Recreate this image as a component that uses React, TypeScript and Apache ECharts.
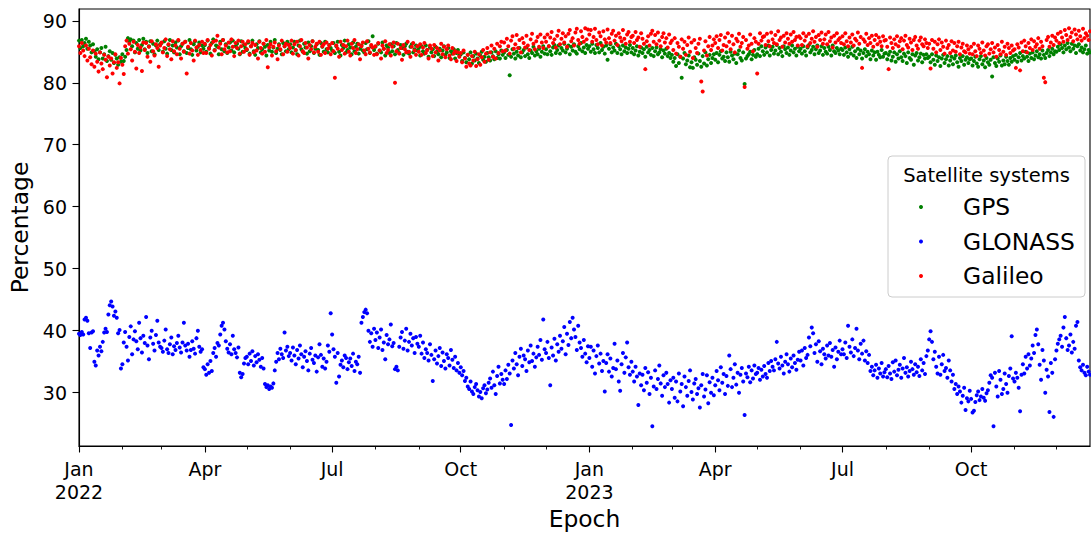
import React, { useEffect, useRef } from "react";
import * as echarts from "echarts";

// Daily percentages, one line per month (Jan..Dec)
const gps2022 = [
  86.8, 85.6, 86.9, 85.9, 86.4, 87.1, 85.5, 86.6, 86.0, 84.9, 86.2, 85.1, 84.2, 85.4, 83.8, 84.9, 85.6, 83.9, 84.6, 85.8, 83.5, 84.3, 85.1, 83.7, 84.8, 83.2, 84.5, 83.9, 82.9, 84.1, 83.4,
  84.6, 83.5, 84.2, 85.3, 87.2, 86.6, 87.0, 85.9, 86.8, 84.9, 86.4, 85.5, 86.9, 85.2, 86.1, 87.1, 85.4, 86.6, 84.8, 85.9, 86.7, 85.1, 86.3, 84.6, 86.0, 86.8, 85.3, 86.2,
  86.4, 85.0, 86.7, 85.5, 84.7, 86.1, 86.9, 85.3, 86.0, 84.9, 86.5, 85.7, 86.8, 84.6, 85.9, 86.3, 85.1, 86.6, 84.8, 85.6, 86.9, 85.4, 84.5, 86.2, 86.7, 85.2, 85.8, 86.5, 84.9, 86.0, 85.5,
  86.1, 85.0, 86.8, 85.6, 84.7, 86.4, 87.0, 85.3, 86.0, 85.8, 84.6, 86.6, 85.4, 86.9, 85.1, 86.2, 84.8, 85.7, 86.5, 85.2, 86.8, 84.9, 85.9, 86.3, 85.5, 84.6, 86.7, 85.0, 86.1, 85.6,
  85.3, 86.5, 84.7, 85.9, 86.8, 85.1, 84.5, 86.2, 85.6, 86.7, 84.9, 85.4, 86.3, 85.8, 84.4, 86.1, 85.2, 86.6, 85.0, 85.7, 86.9, 84.8, 85.5, 86.2, 85.3, 84.6, 86.4, 85.9, 85.1, 86.6, 85.4,
  86.2, 84.9, 85.7, 86.6, 85.2, 84.6, 86.0, 86.8, 85.4, 85.0, 86.3, 85.7, 84.7, 86.5, 85.1, 85.9, 86.7, 84.8, 85.5, 86.2, 85.3, 84.5, 86.4, 85.8, 85.0, 86.6, 85.4, 84.9, 86.1, 85.6,
  85.2, 86.4, 84.8, 85.9, 86.6, 85.0, 84.4, 86.1, 85.6, 86.8, 84.9, 85.3, 86.2, 85.7, 84.6, 86.5, 85.1, 85.8, 86.3, 84.7, 85.5, 86.0, 85.2, 84.9, 86.4, 85.4, 86.7, 84.8, 85.9, 87.5, 85.3,
  85.8, 84.7, 86.3, 85.2, 84.9, 86.5, 85.5, 84.4, 86.0, 85.7, 84.8, 86.2, 85.1, 85.9, 84.6, 86.4, 85.3, 84.8, 86.1, 85.6, 84.5, 85.9, 86.3, 85.0, 84.7, 85.8, 86.2, 84.9, 85.4, 86.0, 85.2,
  85.6, 84.4, 85.9, 85.1, 84.7, 86.0, 85.3, 84.2, 85.7, 84.9, 85.4, 84.3, 85.8, 85.0, 84.6, 85.5, 84.1, 85.2, 85.9, 84.5, 84.9, 85.6, 84.0, 85.1, 84.7, 85.4, 83.9, 84.8, 85.3, 84.4,
  84.6, 83.5, 84.9, 84.0, 83.3, 84.5, 83.8, 84.9, 83.1, 84.3, 83.6, 84.7, 83.9, 83.2, 84.4, 85.0, 83.7, 84.2, 83.4, 84.8, 84.1, 83.6, 84.9, 84.3, 83.8, 85.1, 84.0, 84.6, 83.9, 85.2, 84.5,
  84.9, 84.0, 85.3, 84.5, 81.2, 84.2, 85.4, 84.7, 83.9, 85.0, 84.4, 85.6, 84.1, 84.9, 85.3, 84.3, 85.7, 84.6, 84.0, 85.2, 84.8, 85.8, 84.4, 85.1, 84.6, 85.5, 84.2, 85.0, 85.9, 84.7,
  85.4, 84.6, 85.9, 85.1, 84.5, 85.7, 86.1, 84.8, 85.3, 86.0, 84.7, 85.6, 85.2, 86.3, 84.9, 85.5, 86.0, 84.6, 85.8, 85.2, 86.2, 85.0, 84.7, 85.9, 85.4, 86.4, 85.1, 85.7, 84.8, 86.1, 85.5,
];

const gps2023 = [
  85.9, 85.0, 86.3, 85.4, 84.8, 86.1, 85.6, 84.9, 86.4, 85.3, 85.8, 84.7, 86.0, 83.7, 85.5, 86.2, 84.9, 85.7, 85.2, 86.3, 84.8, 85.9, 85.4, 84.6, 86.0, 85.1, 85.7, 84.8, 85.5, 86.1, 84.9,
  85.6, 84.6, 85.2, 85.9, 84.4, 85.0, 85.7, 84.8, 85.4, 84.2, 85.8, 84.9, 85.3, 84.5, 85.6, 84.3, 85.1, 85.7, 84.6, 84.9, 85.4, 84.1, 85.2, 84.7, 85.5, 84.3, 84.8, 84.0,
  84.5, 83.4, 84.0, 82.7, 84.6, 83.2, 84.2, 80.8, 83.9, 84.8, 83.0, 83.6, 84.4, 82.5, 83.3, 82.4, 84.1, 83.7, 82.9, 84.7, 83.5, 82.6, 84.3, 83.1, 84.9, 82.8, 83.8, 84.5, 83.2, 84.0, 84.6,
  83.7, 84.8, 83.3, 84.5, 85.1, 83.9, 84.2, 83.5, 84.9, 84.1, 83.4, 85.0, 84.4, 83.8, 84.7, 83.2, 84.6, 85.2, 84.0, 83.6, 84.9, 79.8, 83.9, 84.3, 84.6, 85.0, 83.8, 84.5, 85.3, 84.2,
  84.6, 85.5, 84.3, 85.9, 85.1, 84.5, 85.7, 84.9, 86.0, 84.4, 85.3, 85.8, 84.7, 85.2, 86.1, 84.6, 85.6, 85.0, 84.3, 85.9, 85.4, 84.8, 85.7, 84.5, 85.2, 86.0, 84.9, 85.5, 84.4, 85.8, 85.1,
  85.5, 84.7, 85.9, 85.1, 84.4, 85.7, 86.1, 84.9, 85.3, 85.8, 84.6, 85.4, 86.0, 84.8, 85.2, 85.9, 84.5, 85.6, 85.0, 84.7, 85.8, 85.3, 84.4, 86.0, 85.1, 84.8, 85.6, 85.2, 84.6, 85.5,
  85.3, 84.5, 85.7, 84.9, 84.2, 85.4, 84.7, 85.8, 84.4, 85.1, 84.0, 85.5, 84.6, 85.2, 83.9, 84.8, 85.4, 84.3, 85.0, 84.6, 83.8, 85.2, 84.4, 84.9, 83.7, 85.0, 84.5, 84.1, 85.3, 84.2, 84.7,
  84.8, 83.8, 84.5, 85.0, 83.6, 84.2, 84.9, 83.4, 84.6, 83.9, 85.1, 84.1, 83.5, 84.7, 84.3, 83.2, 84.9, 84.0, 83.7, 84.6, 82.9, 84.4, 84.8, 83.6, 84.1, 84.7, 83.3, 84.5, 83.9, 84.6, 84.0,
  84.2, 83.3, 84.6, 83.7, 82.9, 84.4, 83.5, 84.1, 82.7, 83.9, 84.5, 83.2, 83.8, 84.3, 82.8, 83.6, 84.2, 83.0, 83.9, 84.4, 83.3, 82.6, 84.0, 83.5, 84.3, 82.9, 83.7, 84.1, 83.2, 83.8,
  83.9, 82.8, 83.5, 84.2, 83.1, 82.6, 83.8, 84.3, 83.0, 83.6, 82.5, 84.0, 83.3, 82.9, 83.7, 81.0, 84.1, 83.2, 82.7, 83.9, 83.4, 84.4, 82.8, 83.6, 83.0, 84.2, 83.5, 82.9, 84.0, 83.4, 84.3,
  83.7, 84.5, 83.4, 84.1, 84.8, 83.6, 84.3, 83.9, 85.0, 84.2, 83.5, 84.7, 84.0, 84.9, 83.8, 84.4, 85.1, 84.1, 84.6, 83.9, 85.2, 84.5, 84.0, 84.8, 85.3, 84.3, 84.9, 85.5, 84.6, 85.1,
  85.0, 85.8, 85.3, 86.2, 85.6, 84.9, 86.0, 85.4, 86.4, 85.7, 85.1, 86.3, 85.5, 86.0, 84.8, 85.9, 86.2, 85.2, 85.7, 84.9, 85.4, 86.0, 84.7, 85.3, 84.9,
];

const glonass2022 = [
  39.5, 39.3, 39.8, 39.4, 41.8, 42.1, 41.6, 39.6, 37.2, 39.7, 39.9, 35.0, 34.4, 36.8, 36.0, 37.4, 36.7, 38.2, 39.7, 40.3, 39.8, 42.6, 44.1, 44.7, 43.9, 42.4, 43.1, 42.1, 39.6, 40.1, 33.9,
  34.6, 38.1, 39.8, 37.4, 35.2, 39.0, 40.7, 36.2, 38.6, 39.9, 38.3, 37.0, 41.3, 38.8, 36.5, 39.2, 38.0, 42.2, 37.6, 35.4, 38.9, 40.0, 37.9, 36.8, 39.3, 41.6, 38.1, 37.4,
  37.2, 36.6, 38.4, 40.2, 37.0, 36.4, 37.8, 38.9, 36.2, 37.5, 36.9, 38.0, 39.2, 37.3, 36.5, 38.1, 41.3, 37.6, 36.8, 37.9, 35.8, 36.9, 38.3, 37.1, 36.3, 38.8, 40.0, 37.4, 36.6, 37.0, 34.1,
  33.8, 32.9, 34.6, 33.2, 35.1, 33.5, 36.4, 37.2, 35.8, 38.0, 37.6, 39.4, 40.8, 41.3, 40.2, 38.3, 37.1, 36.5, 37.8, 36.2, 39.2, 37.0, 36.4, 35.7, 37.3, 33.2, 32.5, 33.0, 34.7, 35.6,
  35.8, 34.6, 36.3, 35.1, 36.7, 34.4, 35.9, 34.9, 36.2, 35.3, 34.2, 35.6, 33.9, 31.4, 30.9, 31.2, 30.6, 31.0, 30.8, 31.5, 33.6, 35.0, 36.4, 35.4, 37.1, 36.2, 35.6, 39.7, 36.8, 37.4, 35.9,
  36.4, 35.2, 37.3, 36.0, 34.6, 36.9, 35.5, 37.6, 36.2, 34.1, 35.8, 36.7, 35.1, 33.6, 36.3, 37.2, 35.3, 34.8, 36.0, 33.4, 35.7, 37.8, 36.1, 34.2, 35.5, 33.9, 35.0, 37.6, 36.6, 42.8,
  39.4, 37.0, 35.8, 31.6, 36.4, 32.6, 34.5, 35.2, 34.1, 36.0, 35.6, 33.8, 34.9, 35.5, 34.3, 36.3, 33.5, 35.0, 34.6, 35.8, 33.2, 41.3, 42.2, 43.0, 43.4, 42.8, 40.0, 38.2, 39.6, 37.4, 40.3,
  38.5, 39.7, 37.2, 38.9, 40.2, 36.9, 38.1, 35.4, 39.3, 37.8, 38.6, 41.0, 37.5, 38.0, 33.8, 34.2, 33.6, 37.4, 38.9, 39.8, 37.1, 38.4, 40.3, 36.8, 38.2, 39.5, 37.6, 38.8, 36.4, 39.0, 37.9,
  37.4, 39.2, 36.3, 38.1, 35.6, 37.0, 36.4, 35.2, 37.8, 36.1, 31.9, 35.4, 36.8, 34.7, 35.9, 37.2, 34.3, 36.5, 35.1, 33.9, 36.2, 35.6, 34.4, 36.9, 35.3, 34.0, 35.8, 33.6, 34.8, 33.2,
  34.1, 32.8, 33.5, 31.9, 32.4, 31.0, 30.6, 31.8, 30.2, 29.8, 30.9, 31.4, 30.4, 29.4, 30.1, 29.1, 30.7, 31.2, 29.9, 30.5, 31.6, 32.3, 30.8, 33.4, 31.2, 29.8, 32.7, 34.2, 31.5, 33.0, 32.1,
  31.4, 33.6, 32.2, 34.5, 33.1, 24.8, 35.2, 33.9, 36.4, 34.6, 32.8, 35.8, 37.1, 34.3, 36.0, 35.4, 33.5, 36.8, 34.9, 37.6, 35.1, 36.3, 34.2, 35.7, 37.4, 36.1, 38.5, 35.3, 41.8, 37.0,
  36.4, 38.2, 35.6, 31.2, 37.3, 36.0, 38.7, 35.2, 37.8, 36.6, 39.2, 37.1, 38.3, 40.6, 36.2, 39.5, 37.7, 41.4, 38.8, 42.1, 40.2, 39.0, 36.9, 40.8, 38.1, 37.2, 35.8, 38.5, 36.3, 34.9, 37.5,
];

const glonass2023 = [
  35.6, 37.4, 34.2, 36.8, 33.1, 35.9, 37.6, 34.7, 36.3, 33.5, 35.1, 30.2, 34.8, 36.2, 33.4, 35.5, 32.6, 34.0, 37.9, 33.8, 35.2, 31.8, 30.3, 34.6, 36.4, 33.2, 35.7, 38.1, 34.1, 32.9, 35.0,
  33.4, 31.8, 34.2, 32.6, 28.0, 33.1, 31.2, 32.9, 30.4, 34.0, 31.6, 33.3, 29.8, 32.4, 24.6, 31.0, 33.6, 30.6, 32.2, 34.4, 31.5, 29.5, 32.8, 30.9, 33.2, 31.4, 28.4, 32.0,
  30.6, 32.4, 29.2, 31.8, 28.6, 33.1, 30.2, 31.4, 27.8, 32.6, 30.9, 29.5, 31.9, 33.6, 30.1, 28.9, 31.5, 32.2, 29.8, 30.7, 27.6, 31.2, 33.0, 29.4, 30.5, 32.8, 28.3, 31.7, 30.0, 32.4, 29.6,
  31.2, 33.5, 32.0, 30.4, 34.1, 31.6, 33.0, 29.8, 32.7, 31.1, 36.0, 33.8, 30.9, 32.4, 34.6, 31.3, 33.2, 30.0, 32.9, 34.0, 31.8, 26.4, 33.1, 32.5, 34.2, 31.7, 33.6, 32.3, 34.4, 33.0,
  33.2, 34.0, 32.1, 33.7, 32.6, 34.3, 33.0, 32.4, 34.8, 33.5, 35.1, 34.2, 33.6, 35.4, 38.2, 34.7, 33.9, 35.8, 34.4, 33.1, 35.0, 36.2, 34.6, 33.4, 35.5, 34.1, 36.0, 34.8, 33.7, 35.3, 36.6,
  35.2, 36.8, 34.4, 37.2, 35.6, 36.1, 38.9, 37.5, 40.5, 39.6, 36.4, 37.8, 35.0, 38.3, 36.7, 34.6, 37.1, 36.2, 35.5, 37.6, 36.0, 38.0, 35.8, 36.9, 34.2, 37.3, 35.4, 36.6, 38.4, 36.2,
  37.0, 36.2, 38.1, 35.6, 40.8, 37.4, 36.5, 38.6, 35.9, 37.2, 40.3, 36.8, 35.4, 37.9, 36.3, 38.4, 35.2, 36.7, 34.8, 36.1, 33.5, 34.2, 32.8, 33.6, 34.5, 32.4, 33.9, 33.1, 34.8, 32.6, 33.3,
  33.8, 32.5, 34.3, 33.1, 32.2, 34.9, 33.4, 35.2, 32.8, 33.7, 34.5, 32.4, 33.9, 35.6, 33.2, 34.1, 32.6, 33.5, 35.0, 33.8, 32.9, 34.6, 33.3, 34.2, 32.7, 35.4, 33.6, 34.8, 33.0, 35.9, 36.8,
  38.6, 39.9, 38.2, 35.4, 36.6, 34.2, 33.1, 35.8, 32.9, 34.6, 36.1, 33.5, 34.0, 32.4, 35.2, 33.6, 31.8, 32.9, 30.6, 31.4, 29.8, 31.0, 30.2, 28.4, 29.5, 30.8, 27.2, 29.1, 28.6, 30.3,
  29.0, 26.8, 27.1, 28.5, 29.6, 30.2, 28.8, 29.4, 30.6, 29.2, 28.7, 29.9, 30.4, 31.6, 32.8, 32.4, 24.6, 33.2, 31.0, 29.4, 33.5, 32.1, 29.8, 30.6, 33.1, 31.4, 30.0, 32.7, 33.9, 39.1, 32.3,
  31.8, 33.2, 32.4, 30.8, 27.0, 32.9, 34.6, 33.1, 35.8, 33.9, 36.2, 34.4, 35.5, 37.6, 36.4, 39.3, 40.2, 37.8, 34.5, 32.1, 36.9, 35.2, 30.0, 33.7, 32.6, 26.9, 34.8, 33.2, 26.1, 35.4,
  36.8, 37.9, 38.6, 39.2, 37.4, 40.5, 42.2, 38.8, 36.9, 37.6, 39.4, 36.5, 38.2, 37.1, 40.8, 41.4, 35.2, 34.1, 33.6, 34.5, 33.2, 32.8, 34.2, 33.4, 32.9,
];

const galileo2022 = [
  85.9, 84.8, 86.4, 85.2, 84.3, 86.0, 83.6, 85.5, 84.1, 83.0, 85.2, 82.6, 84.7, 83.4, 81.8, 84.9, 83.1, 82.2, 84.5, 83.7, 80.9, 84.2, 82.8, 83.9, 81.5, 83.3, 84.6, 82.4, 83.3, 79.9, 84.0,
  82.9, 81.4, 85.9, 86.8, 84.7, 86.3, 85.4, 83.6, 86.6, 85.0, 82.3, 86.1, 84.8, 85.7, 81.9, 86.5, 85.3, 86.4, 84.2, 85.8, 83.4, 86.7, 85.1, 84.4, 86.2, 85.6, 82.6, 86.0,
  86.5, 84.9, 85.6, 87.0, 84.3, 86.2, 85.4, 83.8, 86.7, 85.1, 86.0, 84.6, 86.9, 85.5, 83.9, 86.3, 85.0, 86.6, 81.5, 85.8, 84.7, 86.4, 85.2, 83.6, 86.8, 85.7, 84.5, 86.1, 85.3, 86.6, 84.8,
  86.3, 84.8, 86.9, 85.5, 86.1, 84.4, 86.6, 85.2, 86.8, 87.6, 85.7, 86.3, 84.6, 86.9, 85.4, 86.0, 84.9, 86.5, 85.1, 87.0, 85.8, 84.3, 86.4, 85.6, 86.8, 84.7, 85.9, 86.6, 85.0, 86.2,
  85.4, 86.7, 84.5, 85.9, 86.4, 84.9, 86.1, 85.2, 83.9, 86.6, 85.6, 84.7, 86.3, 85.0, 86.9, 82.5, 85.7, 86.2, 84.4, 85.8, 86.5, 85.1, 83.8, 86.0, 85.4, 86.8, 84.6, 85.9, 86.3, 85.0, 86.1,
  85.6, 86.8, 84.7, 86.2, 85.3, 86.6, 84.4, 85.9, 86.9, 85.1, 84.8, 86.4, 85.7, 83.9, 86.1, 85.4, 86.7, 84.9, 85.8, 86.3, 85.0, 86.6, 84.5, 85.9, 86.2, 84.8, 86.5, 85.5, 86.0, 84.6,
  86.4, 85.1, 80.8, 86.0, 85.5, 84.2, 86.6, 85.3, 86.1, 84.7, 85.9, 86.8, 85.0, 84.4, 86.3, 85.6, 86.9, 84.8, 85.4, 86.2, 83.8, 85.9, 86.5, 85.2, 84.6, 86.7, 85.5, 84.9, 86.1, 85.7, 84.5,
  85.9, 84.6, 86.4, 85.2, 83.9, 86.0, 85.5, 86.7, 84.8, 85.3, 86.2, 84.4, 85.8, 86.5, 80.0, 85.1, 86.3, 84.7, 85.6, 83.7, 86.1, 85.4, 84.9, 86.6, 85.0, 84.2, 85.8, 86.4, 85.2, 84.5, 85.9,
  85.0, 86.2, 84.5, 85.7, 86.4, 84.8, 85.3, 83.9, 86.0, 85.5, 84.3, 86.1, 84.9, 85.6, 83.6, 85.2, 86.3, 84.6, 85.8, 84.1, 85.4, 86.0, 84.4, 83.8, 85.6, 84.7, 85.1, 83.5, 84.9, 84.2,
  84.8, 83.3, 85.2, 83.9, 82.6, 84.5, 83.1, 82.8, 84.3, 83.6, 85.0, 82.7, 83.8, 84.6, 82.9, 84.1, 85.3, 83.4, 84.7, 85.6, 83.7, 84.9, 86.0, 84.2, 85.5, 83.9, 86.3, 84.8, 85.9, 86.6, 85.1,
  86.5, 85.2, 87.1, 85.9, 84.7, 86.8, 87.5, 85.5, 86.2, 87.7, 85.6, 86.9, 84.9, 87.2, 86.4, 85.7, 87.6, 86.0, 85.3, 87.0, 87.9, 86.3, 85.4, 86.7, 87.4, 85.8, 87.8, 86.5, 85.6, 87.3,
  86.6, 87.8, 85.9, 87.3, 88.2, 86.4, 87.0, 85.7, 87.6, 88.4, 86.2, 87.1, 88.0, 86.5, 87.5, 85.8, 87.9, 88.5, 86.7, 87.2, 86.0, 88.1, 88.7, 86.9, 86.3, 88.3, 87.4, 86.6, 88.8, 87.0, 88.6,
];

const galileo2023 = [
  87.8, 88.5, 86.6, 87.4, 88.7, 86.9, 86.2, 88.1, 87.5, 86.0, 88.3, 87.0, 86.5, 88.6, 87.2, 86.4, 87.9, 88.4, 86.8, 87.6, 86.1, 88.0, 87.3, 86.7, 88.5, 87.1, 86.3, 87.8, 88.2, 86.6, 87.4,
  87.6, 86.4, 88.2, 86.9, 87.3, 85.8, 88.0, 87.1, 86.3, 82.2, 86.7, 87.5, 86.0, 87.9, 88.4, 86.6, 87.7, 86.2, 88.1, 86.8, 85.9, 87.4, 88.0, 86.5, 87.2, 85.7, 87.8, 86.4,
  86.8, 85.3, 87.2, 84.7, 86.4, 85.8, 84.2, 87.0, 85.5, 86.6, 84.5, 86.1, 87.3, 85.0, 86.5, 84.0, 86.9, 85.6, 84.8, 86.3, 87.1, 80.2, 78.6, 85.2, 86.7, 84.4, 85.9, 87.4, 85.3, 86.0, 87.0,
  86.4, 87.5, 85.6, 86.9, 87.7, 85.2, 86.1, 87.3, 85.9, 88.0, 86.6, 85.4, 87.6, 86.2, 84.9, 87.1, 86.7, 87.9, 85.8, 86.4, 87.4, 79.3, 86.9, 85.5, 86.0, 87.8, 86.3, 85.1, 87.2, 86.6,
  81.5, 86.3, 88.0, 86.8, 87.4, 87.5, 86.1, 87.9, 86.7, 85.9, 88.1, 87.0, 86.4, 87.7, 86.2, 88.3, 86.9, 87.3, 85.8, 87.6, 86.5, 88.0, 87.1, 86.3, 87.8, 86.6, 88.2, 86.9, 87.4, 86.0, 87.5,
  87.2, 86.1, 88.0, 86.8, 87.5, 85.9, 87.9, 86.4, 87.1, 88.3, 86.6, 87.4, 85.8, 87.7, 86.9, 88.1, 86.3, 87.0, 87.8, 86.2, 88.2, 86.7, 87.3, 85.7, 87.6, 86.5, 88.0, 86.9, 87.2, 86.4,
  87.5, 86.2, 88.0, 86.7, 85.9, 87.3, 86.5, 87.8, 86.0, 87.1, 86.8, 88.1, 86.3, 87.4, 82.4, 87.0, 86.6, 87.9, 86.1, 87.2, 86.4, 87.6, 85.8, 86.9, 87.7, 86.2, 87.3, 86.6, 85.9, 87.5, 86.8,
  86.9, 85.8, 82.2, 87.3, 86.4, 85.6, 87.0, 86.2, 87.5, 85.9, 86.7, 87.2, 85.4, 86.8, 87.6, 86.1, 85.7, 87.1, 86.5, 85.3, 86.9, 87.4, 86.0, 85.5, 86.8, 87.3, 86.2, 85.9, 87.0, 86.4, 85.6,
  86.3, 82.3, 86.9, 85.5, 86.6, 84.9, 86.2, 87.0, 85.3, 86.5, 85.8, 84.7, 86.8, 85.6, 86.1, 84.8, 86.7, 85.2, 86.4, 85.0, 85.9, 86.6, 84.6, 85.7, 86.3, 85.1, 84.9, 86.0, 85.4, 84.7,
  85.8, 84.6, 86.3, 85.1, 84.3, 86.0, 85.5, 84.8, 86.5, 85.2, 84.4, 85.9, 86.2, 84.7, 85.4, 86.4, 84.9, 85.7, 84.2, 86.1, 85.3, 84.6, 86.6, 85.0, 85.8, 84.5, 86.3, 85.6, 84.8, 86.0, 85.2,
  85.4, 82.4, 86.2, 85.7, 82.0, 86.5, 85.1, 86.8, 85.9, 84.9, 86.4, 85.6, 87.0, 85.3, 86.7, 85.8, 86.2, 87.2, 85.5, 86.6, 85.9, 80.8, 80.1, 86.9, 87.4, 85.8, 86.5, 87.6, 86.1, 87.3,
  86.8, 87.9, 86.4, 88.2, 87.3, 86.6, 88.5, 87.7, 86.9, 88.8, 87.4, 88.1, 86.7, 88.6, 87.8, 87.0, 88.4, 87.5, 86.8, 88.7, 87.2, 88.0, 87.6, 86.9, 88.3,
];

const seriesNames = ["GPS", "GLONASS", "Galileo"];
const seriesColors = ["#008000", "#0000ff", "#ff0000"];
const monthNames = ["Jan", "Feb", "Mar", "Apr", "May", "Jun", "Jul", "Aug", "Sep", "Oct", "Nov", "Dec"];
const yTicks = [30, 40, 50, 60, 70, 80, 90];
const majorMonths = [0, 3, 6, 9];
const years = [2022, 2023];

const toPoints = (vals: number[], year: number) =>
  vals.map((v, i) => [new Date(year, 0, 1 + i).getTime(), v]);

const FONT = "DejaVu Sans";

export default function App() {
  const ref = useRef<HTMLDivElement>(null);
  useEffect(() => {
    if (!ref.current) return;
    const chart = echarts.init(ref.current, undefined, { renderer: "svg" });
    const gps = [...toPoints(gps2022, 2022), ...toPoints(gps2023, 2023)];
    const glo = [...toPoints(glonass2022, 2022), ...toPoints(glonass2023, 2023)];
    const gal = [...toPoints(galileo2022, 2022), ...toPoints(galileo2023, 2023)];
    const xMin = gps[0][0];
    const xMax = new Date(2023, 11, 25).getTime();
    const majorVals: number[] = [];
    const minorVals: number[] = [];
    years.forEach((y) => {
      for (let m = 0; m < 12; m++) {
        const t = new Date(y, m, 1).getTime();
        if (t < xMin || t > xMax) continue;
        minorVals.push(t);
        if (majorMonths.includes(m)) majorVals.push(t);
      }
    });
    const data = [gps, glo, gal];
    chart.setOption({
      animation: false,
      backgroundColor: "#ffffff",
      textStyle: { fontFamily: FONT },
      grid: {
        left: 79,
        right: 1,
        top: 9,
        bottom: 90,
        show: true,
        borderColor: "#000",
        borderWidth: 1.1,
        backgroundColor: "transparent",
      },
      xAxis: [
        {
          type: "value",
          min: xMin,
          max: xMax,
          name: "Epoch",
          nameLocation: "middle",
          nameGap: 60,
          nameTextStyle: { fontSize: 23.4, color: "#000", fontFamily: FONT },
          axisLine: { show: true, lineStyle: { color: "#000", width: 1.1 } },
          axisTick: {
            show: true,
            length: 6.5,
            lineStyle: { color: "#000", width: 1.1 },
            customValues: majorVals,
          },
          axisLabel: {
            show: true,
            margin: 11,
            fontSize: 19,
            color: "#000",
            fontFamily: FONT,
            lineHeight: 23,
            customValues: majorVals,
            formatter: (val: number) => {
              const d = new Date(val);
              const m = monthNames[d.getMonth()];
              return d.getMonth() === 0 ? `${m}\n${d.getFullYear()}` : m;
            },
          },
          splitLine: { show: false },
        },
        {
          type: "value",
          min: xMin,
          max: xMax,
          position: "bottom",
          axisLine: { show: false },
          axisTick: {
            show: true,
            length: 3.5,
            lineStyle: { color: "#000", width: 0.9 },
            customValues: minorVals,
          },
          axisLabel: { show: false },
          splitLine: { show: false },
        },
      ],
      yAxis: {
        type: "value",
        min: 21.4,
        max: 91.9,
        name: "Percentage",
        nameLocation: "middle",
        nameGap: 46,
        nameTextStyle: { fontSize: 23.4, color: "#000", fontFamily: FONT },
        axisLine: { show: true, lineStyle: { color: "#000", width: 1.1 } },
        axisTick: {
          show: true,
          length: 6.5,
          lineStyle: { color: "#000", width: 1.1 },
          customValues: yTicks,
        },
        axisLabel: {
          margin: 12,
          fontSize: 19,
          color: "#000",
          fontFamily: FONT,
          customValues: yTicks,
        },
        splitLine: { show: false },
      },
      legend: {
        data: seriesNames,
        orient: "vertical",
        left: 914,
        top: 190,
        itemWidth: 4,
        itemHeight: 4,
        itemGap: 10.5,
        icon: "circle",
        textStyle: {
          fontSize: 23.4,
          color: "#000",
          fontFamily: FONT,
          lineHeight: 24,
          padding: [0, 0, 0, 35],
        },
        z: 20,
      },
      graphic: [
        {
          type: "rect",
          shape: { x: 888, y: 156, width: 197, height: 141, r: 4 },
          style: { fill: "rgba(255,255,255,0.8)", stroke: "#cccccc", lineWidth: 1 },
          z: 10,
        },
        {
          type: "text",
          x: 986.5,
          y: 175,
          style: {
            text: "Satellite systems",
            fontSize: 19.5,
            fontFamily: FONT,
            fill: "#000",
            align: "center",
            verticalAlign: "middle",
          },
          z: 11,
        },
      ],
      series: data.map((d, i) => ({
        name: seriesNames[i],
        type: "scatter",
        xAxisIndex: 0,
        data: d,
        symbol: "circle",
        symbolSize: 4,
        itemStyle: { color: seriesColors[i], opacity: 1 },
        emphasis: { disabled: true },
      })),
    });
    return () => chart.dispose();
  }, []);
  return (
    <div
      ref={ref}
      style={{ position: "absolute", left: 0, top: 0, width: 1091, height: 536 }}
    />
  );
}
